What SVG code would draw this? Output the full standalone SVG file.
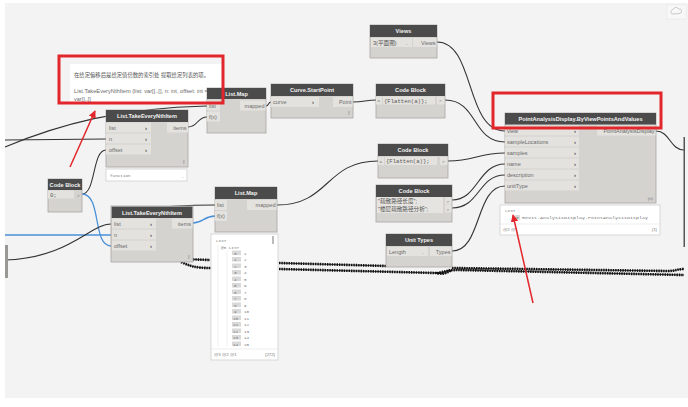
<svg xmlns="http://www.w3.org/2000/svg" width="688" height="407" viewBox="0 0 688 407">
<style>
.bg{fill:#f3f3f3}
.body{fill:#d5d3cf;stroke:#a8a6a2;stroke-width:0.8}
.hdr{fill:#4b4b4b}
.port{fill:#e4e2de}
.ttl{font-family:"Liberation Sans",Arial,sans-serif;font-size:5.6px;font-weight:bold;fill:#f2f2f2;text-anchor:middle}
.lbl{font-family:"Liberation Sans",Arial,sans-serif;font-size:5.5px;fill:#6a6a6a}
.lblr{font-family:"Liberation Sans",Arial,sans-serif;font-size:5.5px;fill:#6a6a6a;text-anchor:end}
.chev{font-family:"Liberation Sans",Arial,sans-serif;font-size:6px;fill:#444;font-weight:bold}
.code{font-family:"Liberation Mono","DejaVu Sans Mono",monospace;font-size:5.6px;fill:#555}
.cjk{font-family:"Liberation Sans","Noto Sans CJK SC",sans-serif;font-size:5.6px;fill:#555}
.sm{font-family:"Liberation Sans",Arial,sans-serif;font-size:4.3px;fill:#777}
.smm{font-family:"Liberation Mono","DejaVu Sans Mono",monospace;font-size:4.3px;fill:#777}
.watch{fill:#ffffff;stroke:#cfcfcf;stroke-width:0.8}
.wire{fill:none;stroke:#333;stroke-width:1.1}
.blue{fill:none;stroke:#4a90d9;stroke-width:1.3}
.bead{fill:none;stroke:#111;stroke-width:2.6;stroke-dasharray:1.4 1}
.beadc{fill:none;stroke:#111;stroke-width:0.8}
.red{fill:none;stroke:#e3262b;stroke-width:3}
.idx{fill:#d9d9d9}
</style>
<defs>
<marker id="ah" viewBox="0 0 10 10" refX="9" refY="5" markerWidth="5" markerHeight="5" orient="auto-start-reverse">
<path d="M0,0 L10,5 L0,10 z" fill="#e3262b"/>
</marker>
</defs>
<rect x="0" y="0" width="688" height="407" fill="#ffffff"/>
<rect class="bg" x="5" y="3" width="683" height="395"/>

<g id="connectors">
<path class="wire" d="M5,147 C60,124 120,108 207,106"/>
<path class="wire" d="M5,140 L106,139"/>
<path class="wire" d="M82,194 C96,194 92,150 106,150"/>
<path class="blue" d="M82,194 C102,194 92,246 111,246"/>
<path class="blue" d="M5,235 L111,235"/>
<path class="wire" d="M5,260 C70,258 90,224 111,224"/>
<path class="wire" d="M130,210 C165,206 190,205 215,205"/>
<path class="blue" d="M193,223 C203,223 204,216 215,216"/>
<path class="wire" d="M188,127 C198,127 197,117 207,117"/>
<path class="wire" d="M266,106 C269,106 268,102 271,102"/>
<path class="wire" d="M353,102 C365,102 365,100 377,100"/>
<path class="wire" d="M277,205 C330,205 325,161 378,161"/>
<path class="wire" d="M437,42 C475,42 465,131 505,131"/>
<path class="wire" d="M445,100 C478,100 472,142 505,142"/>
<path class="wire" d="M448,161 C475,161 478,153 505,153"/>
<path class="wire" d="M452,200 C478,200 478,164 505,164"/>
<path class="wire" d="M452,208 C480,208 478,175 505,175"/>
<path class="wire" d="M452,251 C482,251 475,186 505,186"/>
<path class="wire" d="M656,131 C670,131 670,150 684,150"/>
<path class="beadc" d="M181,259 L210,260 M279,263 L387,266 M452,268 L668,271 C675,271 678,269 684,269"/>
<path class="bead" d="M181,259 L210,260 M279,263 L387,266 M452,268 L668,271 C675,271 678,269 684,269"/>
<path class="beadc" d="M181,262 C190,266 195,268 211,268 M279,269 L436,273 C442,275 446,270 452,270 C448,272 444,275 438,273 C446,271 452,270 458,270 L684,275"/>
<path class="bead" d="M181,262 C190,266 195,268 211,268 M279,269 L436,273 C442,275 446,270 452,270 C448,272 444,275 438,273 C446,271 452,270 458,270 L684,275"/>
</g>

<g id="left-edge-node">
<rect x="5" y="245" width="3" height="33" fill="#9a9894"/>
</g>
<g id="right-edge-node">
<rect x="683.5" y="137" width="1.5" height="110" fill="#555"/>
</g>

<g id="note">
<rect x="70" y="64" width="152" height="39" fill="#ffffff"/>
<text class="cjk" x="74" y="77" font-size="5.2" textLength="135" lengthAdjust="spacingAndGlyphs">在给定偏移后是给定值倍数的索引处 提取给定列表的项。</text>
<text class="lbl" x="74" y="93" font-size="5" fill="#555" textLength="142" lengthAdjust="spacingAndGlyphs">List.TakeEveryNthItem (list: var[]..[], n: int, offset: int = 0):</text>
<text class="lbl" x="74" y="100.5" font-size="5" fill="#555">var[]..[]</text>
</g>

<g id="takeEveryNth1">
<rect class="body" x="106" y="110" width="82" height="57"/>
<rect class="hdr" x="106" y="110" width="82" height="12"/>
<text class="ttl" x="147" y="118.3">List.TakeEveryNthItem</text>
<rect class="port" x="106" y="122.5" width="45" height="10"/>
<rect class="port" x="106" y="133.5" width="45" height="10"/>
<rect class="port" x="106" y="144.5" width="45" height="10"/>
<text class="lbl" x="109" y="129.5">list</text>
<text class="lbl" x="109" y="140.5">n</text>
<text class="lbl" x="109" y="151.5">offset</text>
<text class="chev" x="145" y="129.7">›</text>
<text class="chev" x="145" y="140.7">›</text>
<text class="chev" x="145" y="151.7">›</text>
<rect class="port" x="167" y="122.5" width="21" height="10"/>
<text class="lblr" x="186.5" y="129.5">items</text>
<rect x="183.5" y="160" width="0.8" height="4" fill="#999"/>
<rect x="106" y="169" width="81" height="12" fill="#fff" stroke="#cfcfcf" stroke-width="0.8"/>
<text class="smm" x="110" y="177" font-size="4.8">function</text>
<text class="sm" x="182" y="177">ˬ</text>
</g>

<g id="codeBlockLeft">
<rect class="body" x="48" y="179" width="34" height="33"/>
<rect class="hdr" x="48" y="179" width="34" height="11"/>
<text class="ttl" x="65" y="186.6">Code Block</text>
<rect class="port" x="48" y="190.5" width="26" height="8"/>
<text class="code" x="50" y="196.5" fill="#3a6fc4">0;</text>
<text class="sm" x="77" y="196.5">&gt;</text>
</g>

<g id="takeEveryNth2">
<rect class="body" x="111" y="206" width="82" height="56" stroke="#5b9bd5" stroke-width="1.4"/>
<rect class="hdr" x="111.7" y="206.7" width="80.6" height="11.3" fill="#4f4f4f"/>
<text class="ttl" x="152" y="214.5">List.TakeEveryNthItem</text>
<rect class="port" x="112" y="218.5" width="44" height="10"/>
<rect class="port" x="112" y="229.5" width="44" height="10"/>
<rect class="port" x="112" y="240.5" width="44" height="10"/>
<text class="lbl" x="114" y="225.5">list</text>
<text class="lbl" x="114" y="236.5">n</text>
<text class="lbl" x="114" y="247.5">offset</text>
<text class="chev" x="150" y="225.7">›</text>
<text class="chev" x="150" y="236.7">›</text>
<text class="chev" x="150" y="247.7">›</text>
<rect class="port" x="172" y="218.5" width="20.5" height="10"/>
<text class="lblr" x="191" y="225.5">items</text>
<rect x="188.5" y="255" width="0.8" height="4" fill="#999"/>
</g>

<g id="listMap1">
<rect class="body" x="207" y="88" width="59" height="45"/>
<rect class="hdr" x="207" y="88" width="59" height="11"/>
<text class="ttl" x="236.5" y="95.8">List.Map</text>
<rect class="port" x="207" y="100.5" width="13" height="10"/>
<rect class="port" x="207" y="111.5" width="13" height="10"/>
<text class="lbl" x="209" y="107.5">list</text>
<text class="lbl" x="209" y="118.5">f(x)</text>
<rect class="port" x="240" y="100.5" width="25.5" height="10"/>
<text class="lblr" x="264.5" y="107.5">mapped</text>
</g>

<g id="curveStartPoint">
<rect class="body" x="271" y="84" width="82" height="34"/>
<rect class="hdr" x="271" y="84" width="82" height="12"/>
<text class="ttl" x="312" y="92.2">Curve.StartPoint</text>
<rect class="port" x="271" y="97" width="48" height="10"/>
<text class="lbl" x="273" y="104">curve</text>
<text class="chev" x="312" y="104.2">›</text>
<rect class="port" x="333" y="97" width="19.5" height="10"/>
<text class="lblr" x="351.5" y="104">Point</text>
<rect x="348.5" y="111" width="0.8" height="4" fill="#999"/>
</g>

<g id="views">
<rect class="body" x="370" y="25" width="67" height="33"/>
<rect class="hdr" x="370" y="25" width="67" height="12"/>
<text class="ttl" x="403.5" y="33.2">Views</text>
<rect class="port" x="371" y="38" width="41" height="9" fill="#e9e7e3"/>
<text class="cjk" x="373" y="44.5" font-size="5">3(平面图)</text>
<text class="sm" x="406" y="44.3">ˬ</text>
<rect class="port" x="413" y="38" width="23.5" height="9"/>
<text class="lblr" x="435.5" y="44.5">Views</text>
</g>

<g id="codeBlockTop">
<rect class="body" x="376" y="84" width="69" height="34"/>
<rect class="hdr" x="376" y="84" width="69" height="12"/>
<text class="ttl" x="410.5" y="92.2">Code Block</text>
<rect class="port" x="376" y="96.5" width="6" height="8"/>
<text class="sm" x="377.5" y="102.2">a</text>
<rect x="383" y="96.5" width="52" height="8" fill="#e4e2de"/>
<text class="code" x="384" y="102.5">{Flatten(a)};</text>
<rect class="port" x="437" y="96.5" width="7.5" height="8"/>
<text class="sm" x="439" y="102.2">&gt;</text>
</g>

<g id="codeBlockMid">
<rect class="body" x="378" y="144" width="70" height="34"/>
<rect class="hdr" x="378" y="144" width="70" height="12"/>
<text class="ttl" x="413" y="152.2">Code Block</text>
<rect class="port" x="378" y="157" width="6" height="8"/>
<text class="sm" x="379.5" y="162.7">a</text>
<rect x="385" y="157" width="52" height="8" fill="#e4e2de"/>
<text class="code" x="386" y="163">{Flatten(a)};</text>
<rect class="port" x="440" y="157" width="7.5" height="8"/>
<text class="sm" x="442" y="162.7">&gt;</text>
</g>

<g id="codeBlockStrings">
<rect class="body" x="376" y="185" width="76" height="37"/>
<rect class="hdr" x="376" y="185" width="76" height="12"/>
<text class="ttl" x="414" y="193.2">Code Block</text>
<rect x="377" y="197" width="66" height="16" fill="#e6e4e0"/>
<text class="cjk" x="378" y="203">"疏散路径长度";</text>
<text class="cjk" x="378" y="211">"楼层疏散路径分析";</text>
<rect class="port" x="445" y="197" width="6.5" height="7.5"/>
<rect class="port" x="445" y="205" width="6.5" height="7.5"/>
<text class="sm" x="446.5" y="202.5">&gt;</text>
<text class="sm" x="446.5" y="210.5">&gt;</text>
</g>

<g id="unitTypes">
<rect class="body" x="386" y="234" width="66" height="33"/>
<rect class="hdr" x="386" y="234" width="66" height="12"/>
<text class="ttl" x="419" y="242.2">Unit Types</text>
<rect class="port" x="387" y="247" width="41" height="9" fill="#e9e7e3"/>
<text class="lbl" x="389" y="253.5" fill="#444">Length</text>
<text class="sm" x="422" y="253">ˬ</text>
<rect class="port" x="430" y="247" width="21.5" height="9"/>
<text class="lblr" x="450.5" y="253.5">Types</text>
</g>

<g id="listMap2">
<rect class="body" x="215" y="187" width="62" height="45"/>
<rect class="hdr" x="215" y="187" width="62" height="12"/>
<text class="ttl" x="246" y="195.2">List.Map</text>
<rect class="port" x="215" y="200" width="12" height="10"/>
<rect class="port" x="215" y="211" width="12" height="10"/>
<text class="lbl" x="217" y="207">list</text>
<text class="lbl" x="217" y="218">f(x)</text>
<rect class="port" x="247" y="200" width="29.5" height="10"/>
<text class="lblr" x="275.5" y="207">mapped</text>
</g>

<g id="watchList">
<rect class="watch" x="211" y="234" width="67" height="126"/>
<rect x="272" y="236" width="2" height="8" fill="#bbb"/>
<line x1="218" y1="245" x2="218" y2="346" stroke="#e2e2e2" stroke-width="0.6"/>
<line x1="227" y1="251" x2="227" y2="346" stroke="#e2e2e2" stroke-width="0.6"/>
<text class="smm" x="216" y="242">LIST</text>
<text class="smm" x="221" y="248.5">@0 LIST</text>
<g class="smm">
<rect class="idx" x="232" y="250.5" width="9" height="4.6"/><text x="234" y="254.5">0</text><text x="244" y="254.5">1</text>
<rect class="idx" x="232" y="257" width="9" height="4.6"/><text x="234" y="261">1</text><text x="244" y="261">2</text>
<rect class="idx" x="232" y="263.5" width="9" height="4.6"/><text x="234" y="267.5">2</text><text x="244" y="267.5">3</text>
<rect class="idx" x="232" y="270" width="9" height="4.6"/><text x="234" y="274">3</text><text x="244" y="274">4</text>
<rect class="idx" x="232" y="276.5" width="9" height="4.6"/><text x="234" y="280.5">4</text><text x="244" y="280.5">5</text>
<rect class="idx" x="232" y="283" width="9" height="4.6"/><text x="234" y="287">5</text><text x="244" y="287">6</text>
<rect class="idx" x="232" y="289.5" width="9" height="4.6"/><text x="234" y="293.5">6</text><text x="244" y="293.5">7</text>
<rect class="idx" x="232" y="296" width="9" height="4.6"/><text x="234" y="300">7</text><text x="244" y="300">8</text>
<rect class="idx" x="232" y="302.5" width="9" height="4.6"/><text x="234" y="306.5">8</text><text x="244" y="306.5">9</text>
<rect class="idx" x="232" y="309" width="9" height="4.6"/><text x="234" y="313">9</text><text x="244" y="313">10</text>
<rect class="idx" x="232" y="315.5" width="9" height="4.6"/><text x="233" y="319.5">10</text><text x="244" y="319.5">11</text>
<rect class="idx" x="232" y="322" width="9" height="4.6"/><text x="233" y="326">11</text><text x="244" y="326">12</text>
<rect class="idx" x="232" y="328.5" width="9" height="4.6"/><text x="233" y="332.5">12</text><text x="244" y="332.5">13</text>
<rect class="idx" x="232" y="335" width="9" height="4.6"/><text x="233" y="339">13</text><text x="244" y="339">14</text>
<rect class="idx" x="232" y="341.5" width="9" height="4.6"/><text x="233" y="345.5">14</text><text x="244" y="345.5">15</text>
</g>
<line x1="211" y1="349" x2="278" y2="349" stroke="#e0e0e0" stroke-width="0.6"/>
<text class="sm" x="214" y="356">@3 @2 @1</text>
<text class="sm" x="275" y="356" text-anchor="end" fill="#8a3a3a">{272}</text>
</g>

<g id="pointAnalysisDisplay">
<rect class="body" x="505" y="113" width="151" height="90"/>
<rect class="hdr" x="505" y="113" width="151" height="11.5"/>
<text class="ttl" x="580.5" y="121" font-size="5.4" textLength="124" lengthAdjust="spacingAndGlyphs">PointAnalysisDisplay.ByViewPointsAndValues</text>
<rect class="port" x="505" y="125.5" width="74" height="10"/>
<rect class="port" x="505" y="136.5" width="74" height="10"/>
<rect class="port" x="505" y="147.5" width="74" height="10"/>
<rect class="port" x="505" y="158.5" width="74" height="10"/>
<rect class="port" x="505" y="169.5" width="74" height="10"/>
<rect class="port" x="505" y="180.5" width="74" height="10"/>
<text class="lbl" x="507" y="132.5">view</text>
<text class="lbl" x="507" y="143.5">sampleLocations</text>
<text class="lbl" x="507" y="154.5">samples</text>
<text class="lbl" x="507" y="165.5">name</text>
<text class="lbl" x="507" y="176.5">description</text>
<text class="lbl" x="507" y="187.5">unitType</text>
<text class="chev" x="574" y="132.7">›</text>
<text class="chev" x="574" y="143.7">›</text>
<text class="chev" x="574" y="154.7">›</text>
<text class="chev" x="574" y="165.7">›</text>
<text class="chev" x="574" y="176.7">›</text>
<text class="chev" x="574" y="187.7">›</text>
<rect class="port" x="597" y="125.5" width="58.5" height="10"/>
<text class="lblr" x="654.5" y="132.5">PointAnalysisDisplay</text>
<text class="sm" x="653" y="200" text-anchor="end">(n)</text>
</g>

<g id="watchPAD">
<rect class="watch" x="500" y="205" width="160" height="30"/>
<text class="smm" x="505" y="212">LIST</text>
<rect class="idx" x="515" y="215" width="5" height="4.6"/>
<text class="smm" x="516" y="219">0</text>
<text class="smm" x="522" y="219" textLength="126" lengthAdjust="spacingAndGlyphs">Revit.AnalysisDisplay.PointAnalysisDisplay</text>
<line x1="500" y1="224" x2="660" y2="224" stroke="#e0e0e0" stroke-width="0.6"/>
<text class="sm" x="503" y="231">@2 @1</text>
<text class="sm" x="657" y="231" text-anchor="end">{1}</text>
</g>

<g id="annotations">
<rect class="red" x="59" y="56" width="164" height="47"/>
<rect class="red" x="493" y="93" width="168" height="35"/>
<line x1="70" y1="167" x2="95" y2="111" stroke="#e3262b" stroke-width="1.5" marker-end="url(#ah)"/>
<line x1="533" y1="303" x2="513" y2="215" stroke="#e3262b" stroke-width="1.5" marker-end="url(#ah)"/>
</g>

<g id="toolbar-icon">
<rect x="667" y="5" width="19" height="14" fill="#f8f8f8" stroke="#e6e6e6" stroke-width="0.6"/>
<path d="M672,14 a2.5,2.5 0 0 1 1,-4.5 a3,3 0 0 1 5.5,-0.5 a2.3,2.3 0 0 1 1.5,4.5 z" fill="none" stroke="#b5b5b5" stroke-width="0.7"/>
</g>
</svg>
